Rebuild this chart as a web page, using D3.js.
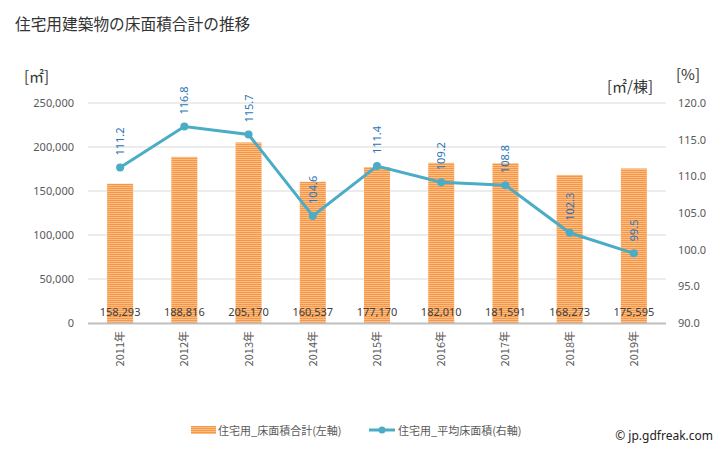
<!DOCTYPE html>
<html><head><meta charset="utf-8">
<script src="https://cdn.jsdelivr.net/npm/d3@7"></script>
<style>body{margin:0;background:#fff;}svg{display:block;font-family:"Noto Sans CJK JP","Noto Sans",sans-serif;}</style>
</head><body>
<script>
const categories = ["2011年","2012年","2013年","2014年","2015年","2016年","2017年","2018年","2019年"];
const floorTotal = [158293,188816,205170,160537,177170,182010,181591,168273,175595];
const avgFloor = [111.2,116.8,115.7,104.6,111.4,109.2,108.8,102.3,99.5];
const leftTicks = [0,50000,100000,150000,200000,250000];
const rightTicks = [90,95,100,105,110,115,120];

const W=728,H=450;
const svg=d3.select("body").append("svg").attr("width",W).attr("height",H);
const defs=svg.append("defs");
const pat=defs.append("pattern").attr("id","stripe").attr("patternUnits","userSpaceOnUse").attr("width",4).attr("height",2);
pat.append("rect").attr("width",4).attr("height",2).attr("fill","#fcc894");
pat.append("rect").attr("width",4).attr("height",1.2).attr("fill","#f79646");

const L=88,R=666,T=103,B=323;
const x=d3.scaleBand().domain(categories).range([L,R]);
const yL=d3.scaleLinear().domain([0,250000]).range([B,T]);
const yR=d3.scaleLinear().domain([90,120]).range([B,T]);

svg.append("text").attr("x",15).attr("y",30).attr("font-size",15.7).attr("fill","#333").text("住宅用建築物の床面積合計の推移");

// grid
svg.append("g").selectAll("line").data(leftTicks.filter(d=>d>0)).join("line")
 .attr("x1",L).attr("x2",R).attr("y1",d=>yL(d)).attr("y2",d=>yL(d)).attr("stroke","#d9d9d9").attr("stroke-width",1);

// left axis
const gl=svg.append("g").attr("transform",`translate(${L},0)`).call(d3.axisLeft(yL).tickValues(leftTicks).tickFormat(d3.format(",")).tickSize(0).tickPadding(14));
gl.select(".domain").remove();
gl.selectAll("text").attr("font-size",11).attr("fill","#595959").attr("font-family","'Noto Sans','DejaVu Sans',sans-serif");
const gr=svg.append("g").attr("transform",`translate(${R},0)`).call(d3.axisRight(yR).tickValues(rightTicks).tickFormat(d3.format(".1f")).tickSize(0).tickPadding(12));
gr.select(".domain").remove();
gr.selectAll("text").attr("font-size",11).attr("fill","#595959").attr("font-family","'Noto Sans','DejaVu Sans',sans-serif");

svg.append("text").attr("x",24).attr("y",82).attr("font-size",15).attr("fill","#333").text("[㎡]");
svg.append("text").attr("x",607).attr("y",92).attr("font-size",15).attr("fill","#333").text("[㎡/棟]");
svg.append("text").attr("x",676).attr("y",80).attr("font-size",15).attr("fill","#333").text("[%]");

// bars
const bw=26;
svg.append("g").selectAll("rect").data(floorTotal).join("rect")
 .attr("x",(d,i)=>x(categories[i])+x.bandwidth()/2-bw/2).attr("width",bw)
 .attr("y",d=>yL(d)).attr("height",d=>B-yL(d)).attr("fill","url(#stripe)");

// baseline
svg.append("line").attr("x1",L).attr("x2",R).attr("y1",B+0.5).attr("y2",B+0.5).attr("stroke","#bfbfbf").attr("stroke-width",2);

// bar labels
svg.append("g").selectAll("text").data(floorTotal).join("text")
 .attr("x",(d,i)=>x(categories[i])+x.bandwidth()/2).attr("y",B-7)
 .attr("text-anchor","middle").attr("font-size",11).attr("fill","#404040")
 .attr("font-family","'Noto Sans','DejaVu Sans',sans-serif")
 .text(d=>d3.format(",")(d));

// x labels
svg.append("g").selectAll("text").data(categories).join("text")
 .attr("transform",(d)=>`translate(${x(d)+x.bandwidth()/2+4},${B+8}) rotate(-90)`)
 .attr("text-anchor","end").attr("font-size",11).attr("fill","#595959").text(d=>d);

// line
const lc="#4bacc6";
const line=d3.line().x((d,i)=>x(categories[i])+x.bandwidth()/2).y(d=>yR(d));
svg.append("path").datum(avgFloor).attr("d",line).attr("fill","none").attr("stroke",lc).attr("stroke-width",3);
svg.append("g").selectAll("circle").data(avgFloor).join("circle")
 .attr("cx",(d,i)=>x(categories[i])+x.bandwidth()/2).attr("cy",d=>yR(d)).attr("r",4).attr("fill",lc);
svg.append("g").selectAll("text").data(avgFloor).join("text")
 .attr("transform",(d,i)=>`translate(${x(categories[i])+x.bandwidth()/2+4},${yR(d)-12}) rotate(-90)`)
 .attr("text-anchor","start").attr("font-size",11).attr("fill","#2e75b6")
 .attr("font-family","'Noto Sans','DejaVu Sans',sans-serif")
 .text(d=>d3.format(".1f")(d));

// legend
const lg=svg.append("g");
lg.append("rect").attr("x",191).attr("y",426).attr("width",25).attr("height",8).attr("fill","url(#stripe)");
lg.append("text").attr("x",218).attr("y",435).attr("font-size",11).attr("fill","#595959").text("住宅用_床面積合計(左軸)");
lg.append("line").attr("x1",369).attr("x2",395).attr("y1",430).attr("y2",430).attr("stroke",lc).attr("stroke-width",3);
lg.append("circle").attr("cx",382).attr("cy",430).attr("r",3.5).attr("fill",lc);
lg.append("text").attr("x",398).attr("y",435).attr("font-size",11).attr("fill","#595959").text("住宅用_平均床面積(右軸)");
svg.append("text").attr("x",713).attr("y",440).attr("text-anchor","end").attr("font-size",12).attr("fill","#222").attr("font-family","'Noto Sans','DejaVu Sans',sans-serif").text("© jp.gdfreak.com");
</script>
</body></html>
